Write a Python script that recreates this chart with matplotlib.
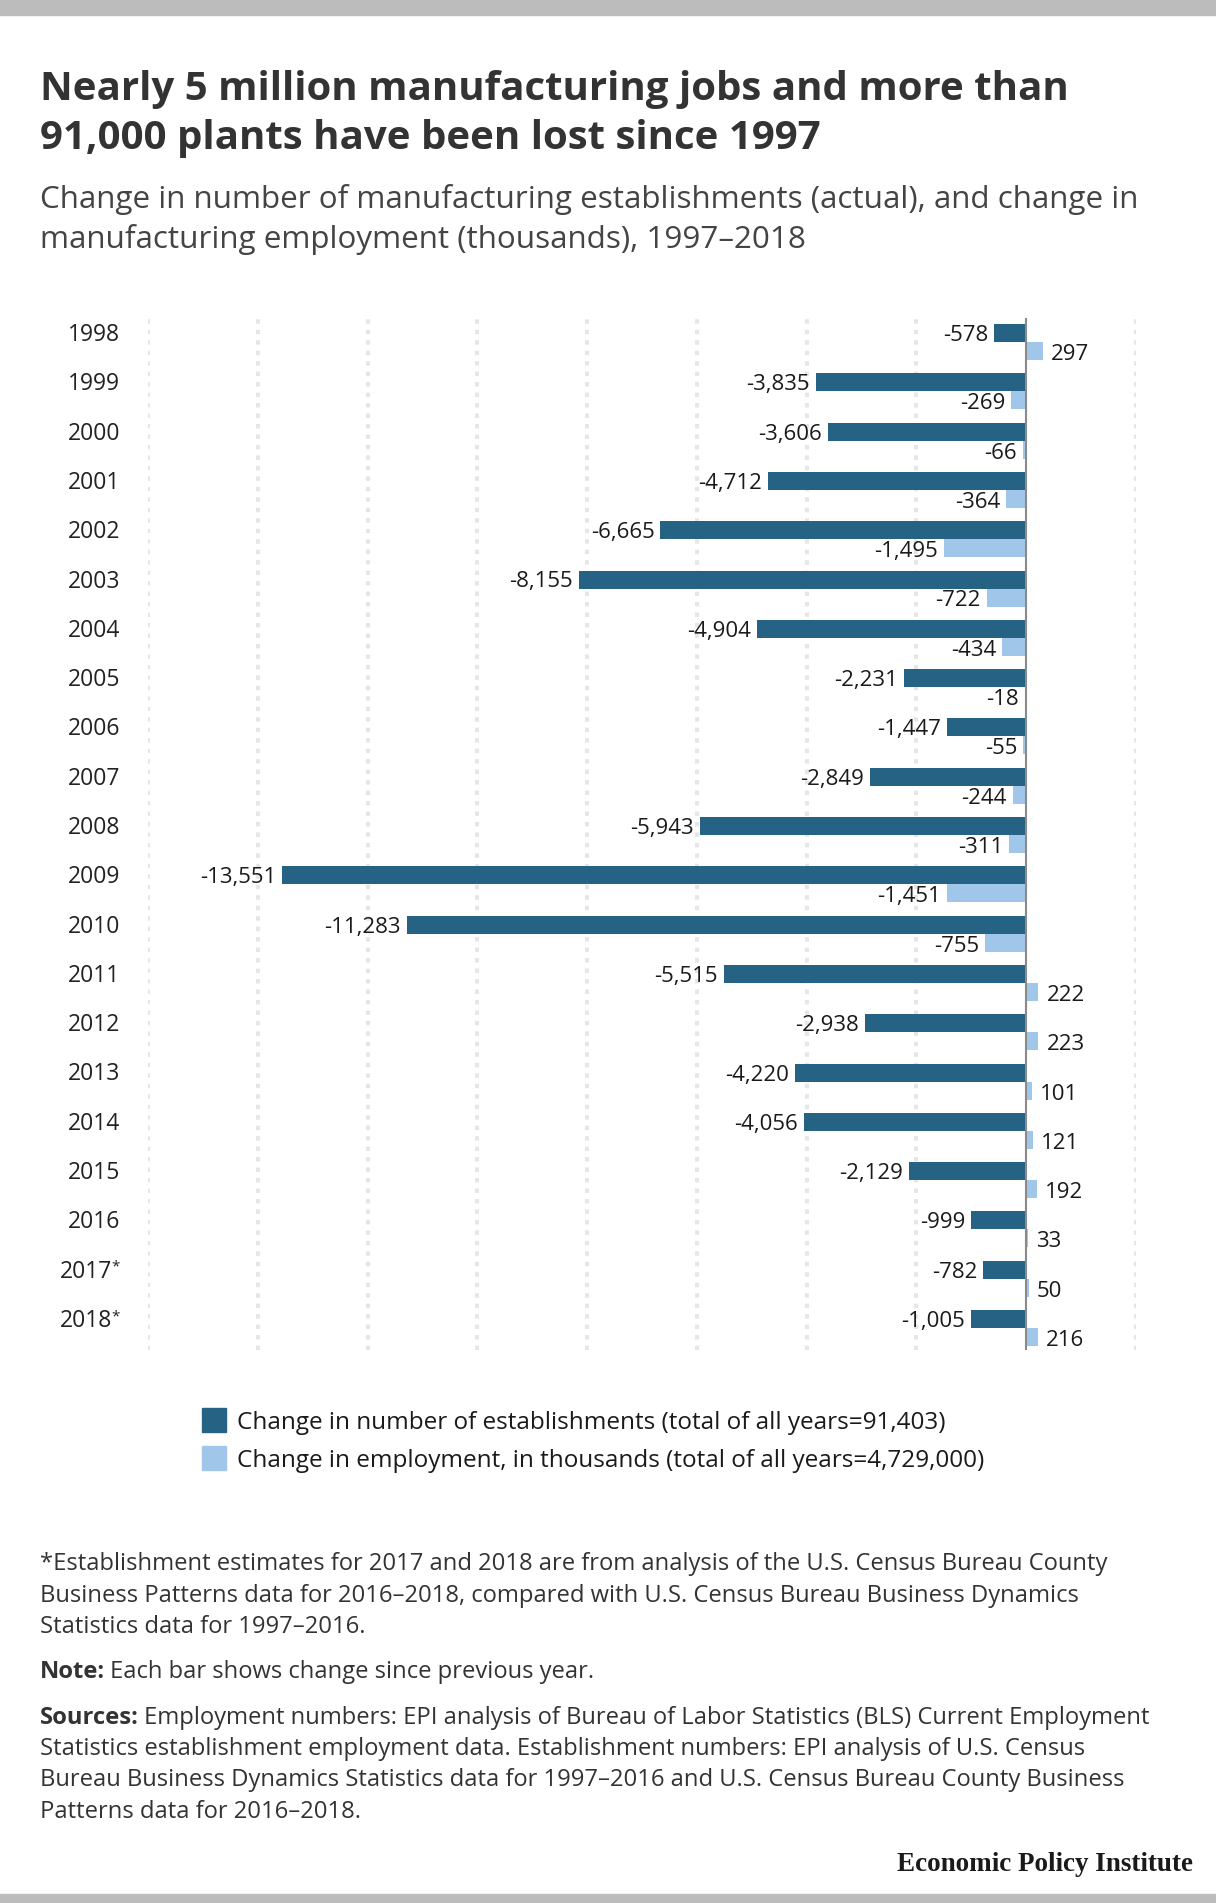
import matplotlib
matplotlib.use("Agg")
import matplotlib.pyplot as plt
from matplotlib.patches import Rectangle

# ---- data -------------------------------------------------------------
years = ["1998", "1999", "2000", "2001", "2002", "2003", "2004", "2005",
         "2006", "2007", "2008", "2009", "2010", "2011", "2012", "2013",
         "2014", "2015", "2016", "2017*", "2018*"]
establishments = [-578, -3835, -3606, -4712, -6665, -8155, -4904, -2231,
                  -1447, -2849, -5943, -13551, -11283, -5515, -2938, -4220,
                  -4056, -2129, -999, -782, -1005]
employment = [297, -269, -66, -364, -1495, -722, -434, -18, -55, -244, -311,
              -1451, -755, 222, 223, 101, 121, 192, 33, 50, 216]
grid_ticks = [-16000, -14000, -12000, -10000, -8000, -6000, -4000, -2000, 2000]

legend_labels = ["Change in number of establishments (total of all years=91,403)",
                 "Change in employment, in thousands (total of all years=4,729,000)"]

title_lines = ["Nearly 5 million manufacturing jobs and more than",
               "91,000 plants have been lost since 1997"]
subtitle_lines = ["Change in number of manufacturing establishments (actual), and change in",
                  "manufacturing employment (thousands), 1997\u20132018"]
footnote_lines = ["*Establishment estimates for 2017 and 2018 are from analysis of the U.S. Census Bureau County",
                  "Business Patterns data for 2016\u20132018, compared with U.S. Census Bureau Business Dynamics",
                  "Statistics data for 1997\u20132016."]
note_text = "Each bar shows change since previous year."
sources_lines = ["Employment numbers: EPI analysis of Bureau of Labor Statistics (BLS) Current Employment",
                 "Statistics establishment employment data. Establishment numbers: EPI analysis of U.S. Census",
                 "Bureau Business Dynamics Statistics data for 1997\u20132016 and U.S. Census Bureau County Business",
                 "Patterns data for 2016\u20132018."]

DARK = "#256283"
LIGHT = "#a0c7e9"
W, H = 1216, 1903

plt.rcParams["font.family"] = ["Open Sans", "DejaVu Sans"]

fig = plt.figure(figsize=(W / 100, H / 100), dpi=100)
fig.patch.set_facecolor("white")


def fx(x):
  return x / W


def fy(y):
  # y measured from the top, in pixels
  return 1 - y / H


# grey bands top and bottom
fig.patches.append(Rectangle((0, fy(15)), 1, 15 / H, transform=fig.transFigure,
                             color="#bcbcbc", zorder=0))
fig.patches.append(Rectangle((0, 0), 1, 9 / H, transform=fig.transFigure,
                             color="#bcbcbc", zorder=0))

# title and subtitle
for i, line in enumerate(title_lines):
  fig.text(fx(40), fy(100 + 49 * i), line, fontsize=29, fontweight="bold",
           color="#333333", va="baseline", ha="left")
for i, line in enumerate(subtitle_lines):
  fig.text(fx(40), fy(208 + 40 * i), line, fontsize=22.6, color="#444444",
           va="baseline", ha="left")

# ---- chart ------------------------------------------------------------
top_px, bot_px, left_px, right_px = 318, 1350, 148, 1136
ax = fig.add_axes([fx(left_px), fy(bot_px), fx(right_px - left_px), (bot_px - top_px) / H])
row = 49.3
bar_h = 18 / row
ax.set_xlim(-16000, 2000)
ax.set_ylim((bot_px - 333) / row, -(333 - top_px) / row)

ypos = list(range(len(years)))
ypos_light = [y + bar_h for y in ypos]

for t in grid_ticks:
  ax.axvline(t, color="#e6e6e6", lw=2.9, dashes=(1.1, 1.5), zorder=0)
ax.axvline(0, color="#8a8a8a", lw=1.5, zorder=3)

ax.barh(ypos, establishments, height=bar_h, color=DARK, zorder=2)
ax.barh(ypos_light, employment, height=bar_h, color=LIGHT, zorder=2)

for y, v in zip(ypos, establishments):
  ax.annotate(f"{v:,}", xy=(v, y), xytext=(-6, -8), textcoords="offset pixels",
              ha="right", va="baseline", fontsize=16, color="#1a1a1a")
for y, v in zip(ypos_light, employment):
  if v < 0:
    ax.annotate(f"{v:,}", xy=(v, y), xytext=(-6, -9), textcoords="offset pixels",
                ha="right", va="baseline", fontsize=16, color="#1a1a1a")
  else:
    ax.annotate(f"{v:,}", xy=(v, y), xytext=(8, -9), textcoords="offset pixels",
                ha="left", va="baseline", fontsize=16, color="#1a1a1a")

ytrans = ax.get_yaxis_transform()
for y, lab in zip(ypos, years):
  dx = -28
  if lab.endswith("*"):
    # small raised asterisk after the year
    ax.annotate("*", xy=(0, y), xycoords=ytrans, xytext=(dx, -1),
                textcoords="offset pixels", ha="right", va="baseline",
                fontsize=11, color="#222222", annotation_clip=False)
    lab = lab[:-1]
    dx = -36
  ax.annotate(lab, xy=(0, y), xycoords=ytrans, xytext=(dx, -8),
              textcoords="offset pixels", ha="right", va="baseline",
              fontsize=16.5, color="#222222", annotation_clip=False)

ax.set_xticks([])
ax.set_yticks([])
for s in ax.spines.values():
  s.set_visible(False)
ax.patch.set_alpha(0)

# ---- legend -----------------------------------------------------------
for i, (lab, col) in enumerate(zip(legend_labels, [DARK, LIGHT])):
  top = 1408 + 38 * i
  fig.patches.append(Rectangle((fx(202), fy(top + 24)), fx(24), 24 / H,
                               transform=fig.transFigure, color=col))
  fig.text(fx(237), fy(top + 21), lab, fontsize=17.5, color="#1a1a1a",
           va="baseline", ha="left")

# ---- notes ------------------------------------------------------------
renderer = fig.canvas.get_renderer()
for i, line in enumerate(footnote_lines):
  fig.text(fx(40), fy(1570 + 31.5 * i), line, fontsize=17.1, color="#333333",
           va="baseline", ha="left")


def bold_lead(y, lead, rest):
  t = fig.text(fx(40), fy(y), lead, fontsize=17.1, fontweight="bold",
               color="#333333", va="baseline", ha="left")
  bb = t.get_window_extent(renderer)
  fig.text(fx(bb.x1 + 5), fy(y), rest, fontsize=17.1, color="#333333",
           va="baseline", ha="left")


bold_lead(1678, "Note:", note_text)
bold_lead(1724, "Sources:", sources_lines[0])
for i, line in enumerate(sources_lines[1:]):
  fig.text(fx(40), fy(1755 + 31.5 * i), line, fontsize=17.1, color="#333333",
           va="baseline", ha="left")

fig.text(fx(1193), fy(1871), "Economic Policy Institute", fontsize=19.5,
         fontweight="bold", family=["Liberation Serif", "DejaVu Serif"],
         color="#1a1a1a", va="baseline", ha="right")

fig.savefig("out.png", dpi=100, facecolor="white")
